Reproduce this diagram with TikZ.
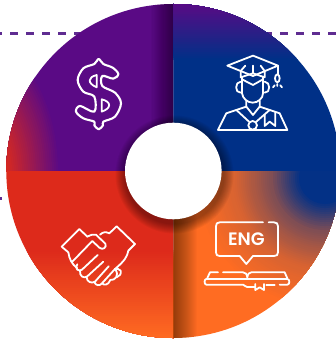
\documentclass[tikz,border=0pt]{standalone}
\usepackage{fontspec}
\newfontfamily\engfont{Poppins SemiBold}
\definecolor{wpurple}{HTML}{5A0A85}
\definecolor{wblue}{HTML}{003087}
\definecolor{wred}{HTML}{DD2A1B}
\definecolor{worange}{HTML}{FF6C22}
\definecolor{wdash}{HTML}{5F2C91}
\tikzset{
  icon/.style={draw=white,line width=1.8pt,line join=round,line cap=round},
  dashline/.style={draw=wdash,line width=3.5pt,dash pattern=on 7.5pt off 8.5pt},
  zoomed/.style={x=0.3333pt,y=-0.3333pt}
}
\begin{document}
\begin{tikzpicture}[x=1pt,y=-1pt]
\useasboundingbox (0,0) rectangle (336,339);
\clip (0,0) rectangle (336,339);
\fill[white] (0,0) rectangle (336,339);
% dashed lines
\coordinate (dla) at (-6,33.5);
\coordinate (dlb) at (90,33.5);
\coordinate (dra) at (264,33.5);
\coordinate (drb) at (345,33.5);
\coordinate (dsa) at (-6,198.5);
\coordinate (dsb) at (1.5,198.5);
\draw[dashline] (dla) -- (dlb);
\draw[dashline] (dra) -- (drb);
\draw[draw=wdash,line width=3.5pt] (dsa) -- (dsb);
% wheel
\coordinate (c) at (173.3,171);
\begin{scope}
\clip (c) circle[radius=167pt];
% top left
\begin{scope}
\clip (0,0) rectangle (173.3,171);
\fill[wpurple] (0,0) rectangle (174,172);
\foreach \r in {85,83,...,29}{
  \pgfmathtruncatemacro{\p}{max(0,100*(\r-30)/55)}
  \fill[wpurple!\p!wred] (-25,172) ellipse[x radius=\r pt,y radius=1.6*\r pt];}
\foreach \i in {1,...,20}{\fill[black,opacity=.022] (173.3-1.1*\i,0) rectangle (174,172);}
\end{scope}
% top right
\begin{scope}
\clip (173.3,0) rectangle (340,171.8);
\fill[wblue] (173,0) rectangle (340,172);
\foreach \y in {60,58,...,4}{
  \pgfmathtruncatemacro{\p}{100*(\y-4)/56}
  \fill[wblue!\p!wpurple] (173,0) rectangle (340,\y);}
\end{scope}
% bottom left
\begin{scope}
\clip (0,171) rectangle (173.3,339);
\fill[wred] (0,171) rectangle (174,339);
\foreach \y in {250,252,...,338}{
  \pgfmathtruncatemacro{\p}{100*(\y-250)/88}
  \fill[worange!\p!wred] (0,\y) rectangle (174,339);}
\end{scope}
% bottom right
\begin{scope}
\clip (173.3,171.8) rectangle (340,339);
\fill[worange] (173,171) rectangle (340,339);
\foreach \r in {130,128,...,25}{
  \pgfmathtruncatemacro{\p}{\r<54 ? (\r-25)*50/29 : (\r<91 ? 50+(\r-54)*35/37 : 85+(\r-91)*15/39)}
  \fill[worange!\p!wblue] (325,178) circle[radius=\r pt];}
\foreach \i in {1,...,24}{\fill[black,opacity=.018] (173,171) rectangle (173.3+1*\i,339);}
\end{scope}
% hub shadow
\foreach \r in {50,51,...,59}{\fill[black,opacity=.045] (174.5,174.5) circle[radius=\r pt];}
\end{scope}
\fill[white] (c) circle[radius=48.3pt];
% dollar
\begin{scope}[zoomed]
\draw[icon,line width=2.1pt] plot[smooth cycle,tension=.55] coordinates {(283,192) (296,177) (310,192) (338,203) (355,222) (340,236) (307,228) (307,258) (345,278) (363,310) (345,350) (310,365) (309,376) (296,388) (283,376) (283,365) (250,355) (228,335) (240,318) (283,335) (283,290) (250,275) (233,240) (250,205)};
\draw[icon] (290,225) -- (290,262) .. controls (262,250) and (262,232) .. (290,225) -- cycle;
\draw[icon] (305,298) -- (305,335) .. controls (335,325) and (335,305) .. (305,298) -- cycle;
\end{scope}
% graduate
\begin{scope}[zoomed,shift={(168pt,0pt)}]
\draw[icon] (178,197) -- (255,167) -- (330,197) -- (255,228) -- cycle;
\draw[icon] (218,213) -- (232,197) (278,197) -- (290,213);
\draw[icon] (255,197) -- (255,218);
\draw[icon] (218,213) -- (218,232) -- (255,220) -- (290,232) -- (290,213);
\draw[icon] (330,197) -- (330,222);
\draw[icon] (328,235) ellipse[x radius=7,y radius=12];
\draw[icon] (315,262) -- (320,256) (328,252) -- (328,258) (342,262) -- (337,256);
\draw[icon] (222,232) -- (222,280) .. controls (224,295) and (238,308) .. (254,308) .. controls (270,308) and (285,295) .. (285,280) -- (285,232);
\draw[icon] (222,238) -- (255,255) -- (285,238);
\draw[icon] (218,245) .. controls (200,245) and (200,280) .. (218,278);
\draw[icon] (290,245) .. controls (308,245) and (308,280) .. (290,278);
\draw[icon] (235,303) -- (235,320) -- (255,345) -- (275,320) -- (275,303);
\draw[icon] (235,320) -- (175,340) -- (150,390) -- (358,390) -- (335,340) -- (275,320);
\draw[icon] (205,330) -- (243,365) (305,330) -- (265,365);
\draw[icon] (254,376) circle[radius=13];
\draw[icon] (290,345) -- (290,378) -- (305,365) -- (322,378) -- (322,337);
\end{scope}
% handshake
\begin{scope}[zoomed,shift={(0pt,-169pt)}]
\draw[icon] (262,203) -- (238,180) -- (185,233) -- (205,250) .. controls (208,270) and (215,285) .. (232,298);
\draw[icon] (262,203) .. controls (272,198) and (280,195) .. (288,197) -- (316,224) .. controls (322,235) and (308,245) .. (298,236) -- (277,216) -- (215,280);
\draw[icon] (300,197) .. controls (310,188) and (318,188) .. (328,193) -- (350,172) -- (405,225) -- (385,245) .. controls (382,262) and (375,275) .. (345,300);
\draw[icon] (232,286) .. controls (222,298) and (236,310) .. (246,302) -- (293,258);
\draw[icon] (240,305) .. controls (238,322) and (252,330) .. (262,322) -- (310,278);
\draw[icon] (260,325) .. controls (260,338) and (275,345) .. (285,338) -- (326,292);
\draw[icon] (283,338) .. controls (285,350) and (300,352) .. (306,343) -- (345,300);
\draw[icon] (306,343) .. controls (312,350) and (325,348) .. (330,335);
\draw[icon] (330,333) .. controls (345,335) and (360,320) .. (345,300);
\draw[icon] (345,300) .. controls (350,298) and (358,300) .. (362,305) .. controls (365,315) and (358,322) .. (350,325);
\end{scope}
% book and bubble
\begin{scope}[zoomed,shift={(168pt,-169pt)}]
\draw[icon] (285,160) -- (155,160) .. controls (147,160) and (144,164) .. (144,172) -- (144,250) .. controls (144,258) and (147,261) .. (155,261) -- (215,261) -- (235,285) -- (255,261) -- (318,261) .. controls (326,261) and (330,258) .. (330,250) -- (330,172) .. controls (330,164) and (326,160) .. (318,160) -- (302,160);
\node[text=white,font=\engfont\fontsize{18pt}{18pt}\selectfont,inner sep=0pt] (eng) at (235,210) {ENG};
\draw[icon] (118,327) -- (126,310) -- (150,310) (165,310) -- (225,310) .. controls (232,310) and (237,315) .. (238,325);
\draw[icon] (238,325) .. controls (239,315) and (244,310) .. (250,310) -- (350,310) -- (358,328);
\draw[icon] (130,330) -- (115,330) .. controls (108,330) and (108,347) .. (115,347) -- (225,347) .. controls (230,347) and (230,354) .. (237,354) -- (262,354);
\draw[icon] (130,330) -- (225,330) -- (238,330);
\draw[icon] (238,330) -- (358,330) .. controls (366,330) and (366,347) .. (358,347) -- (335,347);
\draw[icon] (295,347) -- (320,347);
\draw[icon] (262,345) -- (262,363) -- (275,355) -- (288,363) -- (288,345);
\end{scope}
\end{tikzpicture}
\end{document}
